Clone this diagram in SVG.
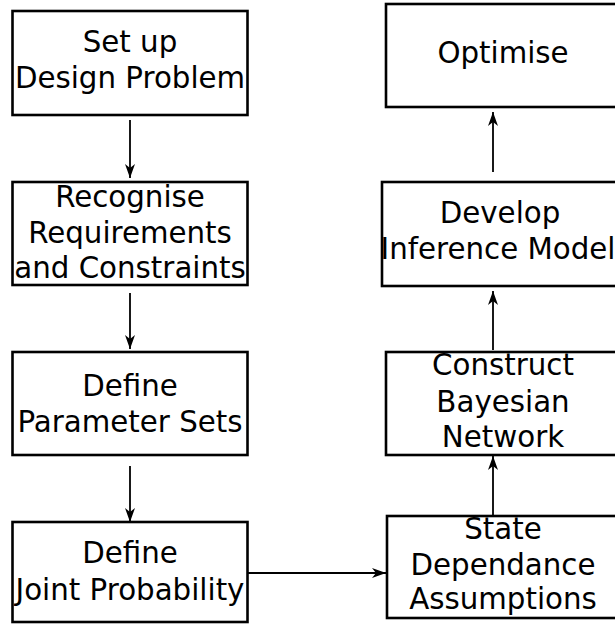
<svg xmlns="http://www.w3.org/2000/svg" width="615" height="625" viewBox="0 0 615 625">
  <style>
    .box { fill: #ffffff; stroke: #000000; stroke-width: 2.6; }
    .lbl { font-family: "DejaVu Sans", Verdana, sans-serif; font-size: 29.3px; fill: #000000; text-anchor: middle; }
    .edge { stroke: #000000; stroke-width: 1.8; fill: none; marker-end: url(#head); }
  </style>
  <defs>
    <marker id="head" markerUnits="userSpaceOnUse" markerWidth="15" markerHeight="12" refX="14" refY="6" orient="auto">
      <path d="M0,1 L14,6 L0,11 L4,6 Z" fill="#000000"/>
    </marker>
  </defs>
  <rect width="615" height="625" fill="#ffffff"/>

  <g id="connectors">
    <line class="edge" x1="130" y1="120" x2="130" y2="178"/>
    <line class="edge" x1="130" y1="293" x2="130" y2="349"/>
    <line class="edge" x1="130" y1="466" x2="130" y2="522"/>
    <line class="edge" x1="245" y1="573" x2="386" y2="573"/>
    <line class="edge" x1="493" y1="516" x2="493" y2="456"/>
    <line class="edge" x1="493" y1="350" x2="493" y2="291"/>
    <line class="edge" x1="493" y1="172" x2="493" y2="112"/>
  </g>

  <g id="setup">
    <rect class="box" x="12.5" y="11" width="235" height="104"/>
    <text class="lbl" x="130" y="52">Set up</text>
    <text class="lbl" x="130" y="88">Design Problem</text>
  </g>

  <g id="requirements">
    <rect class="box" x="12.5" y="182" width="235" height="103"/>
    <text class="lbl" x="130" y="207">Recognise</text>
    <text class="lbl" x="130" y="243">Requirements</text>
    <text class="lbl" x="130" y="278">and Constraints</text>
  </g>

  <g id="parameters">
    <rect class="box" x="12.5" y="352" width="235" height="103"/>
    <text class="lbl" x="130" y="396">Define</text>
    <text class="lbl" x="130" y="432">Parameter Sets</text>
  </g>

  <g id="joint">
    <rect class="box" x="12.5" y="522" width="235" height="100"/>
    <text class="lbl" x="130" y="563">Define</text>
    <text class="lbl" x="130" y="600">Joint Probability</text>
  </g>

  <g id="assumptions">
    <rect class="box" x="387" y="516" width="236" height="102"/>
    <text class="lbl" x="503" y="539">State</text>
    <text class="lbl" x="503" y="575">Dependance</text>
    <text class="lbl" x="503" y="609">Assumptions</text>
  </g>

  <g id="network">
    <rect class="box" x="386" y="352" width="236" height="103"/>
    <text class="lbl" x="503" y="375">Construct</text>
    <text class="lbl" x="503" y="412">Bayesian</text>
    <text class="lbl" x="503" y="447">Network</text>
  </g>

  <g id="inference">
    <rect class="box" x="382" y="182" width="236" height="104"/>
    <text class="lbl" x="500" y="223">Develop</text>
    <text class="lbl" x="498" y="259">Inference Model</text>
  </g>

  <g id="optimise">
    <rect class="box" x="386" y="4" width="236" height="103"/>
    <text class="lbl" x="503" y="63">Optimise</text>
  </g>
</svg>
